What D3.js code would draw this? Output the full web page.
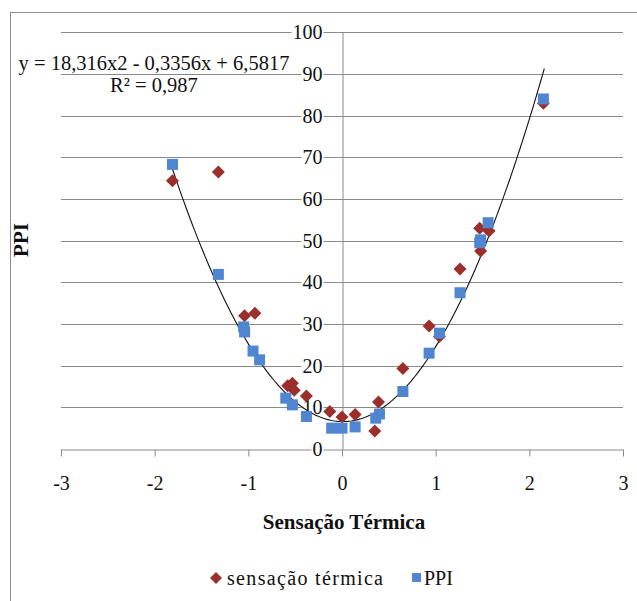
<!DOCTYPE html>
<html lang="en">
<head>
    <meta charset="UTF-8">
    <title>PPI x Sensação Térmica</title>
    <style>
        body { margin: 0; background: #fff; }
        svg { font-family: "Liberation Serif", serif; }
    </style>
</head>
<body>
<div id="chart-container"></div>
<script src="https://d3js.org/d3.v7.min.js"></script>
<script>
    // series values
    const termX = [-1.81, -1.32, -1.04, -0.93, -0.58, -0.53, -0.51, -0.38, -0.13, 0.0, 0.14, 0.35, 0.39, 0.65, 0.93, 1.04, 1.26, 1.47, 1.48, 1.57, 2.15];
    const termY = [64.4, 66.5, 32.0, 32.6, 15.2, 15.8, 14.1, 12.7, 9.0, 7.7, 8.3, 4.3, 11.3, 19.3, 29.5, 27.0, 43.2, 53.0, 47.5, 52.3, 83.0];
    const ppiX = [-1.81, -1.32, -1.05, -1.04, -0.95, -0.88, -0.6, -0.53, -0.38, -0.11, 0.0, 0.14, 0.36, 0.4, 0.65, 0.93, 1.04, 1.26, 1.47, 1.48, 1.56, 2.15];
    const ppiY = [68.3, 41.9, 29.3, 28.1, 23.5, 21.4, 12.2, 10.6, 7.8, 5.0, 5.0, 5.3, 7.4, 8.4, 13.8, 23.0, 27.8, 37.5, 49.5, 50.2, 54.3, 84.0];

    // trend line (polynomial, order 2) as printed on the chart
    const trendCoef = [18.316, -0.3356, 6.5817];
    const trendRange = [-1.82, 2.16];
    const eqLabel = 'y = 18,316x2 - 0,3356x + 6,5817';
    const r2Label = 'R² = 0,987';

    const xTicks = [-3, -2, -1, 0, 1, 2, 3];
    const yTicks = [0, 10, 20, 30, 40, 50, 60, 70, 80, 90, 100];
    const seriesNames = ['sensação térmica', 'PPI'];

    const width = 637, height = 601;
    const red = '#9b2f2c', blue = '#4f86cf';
    const fs = 20;

    const svg = d3.select('#chart-container')
        .append('svg')
        .attr('width', width)
        .attr('height', height);

    // outer chart border
    svg.append('rect')
        .attr('x', 10.5).attr('y', 12.5)
        .attr('width', 700).attr('height', 700)
        .attr('fill', 'none')
        .attr('stroke', '#8c8c8c');

    const x = d3.scaleLinear().domain([-3, 3]).range([61, 623]);
    const y = d3.scaleLinear().domain([0, 100]).range([449, 32.3]);

    // gridlines
    svg.append('g')
        .selectAll('line')
        .data(yTicks.slice(1))
        .join('line')
        .attr('x1', x(-3)).attr('x2', x(3))
        .attr('y1', d => Math.round(y(d)) + 0.5)
        .attr('y2', d => Math.round(y(d)) + 0.5)
        .attr('stroke', '#8a8a8a');

    // x axis with ticks
    const xAxis = svg.append('g')
        .attr('transform', `translate(0,${Math.round(y(0)) + 0.5})`)
        .call(d3.axisBottom(x).tickValues(xTicks).tickSize(7).tickSizeOuter(0));
    xAxis.attr('font-family', null).attr('font-size', fs);
    xAxis.select('.domain').attr('stroke', '#8a8a8a');
    xAxis.selectAll('.tick line').attr('stroke', '#8a8a8a');
    xAxis.selectAll('.tick text')
        .attr('y', 26)
        .attr('fill', '#111')
        .text(d => d < 0 ? '-' + Math.abs(d) : d);

    // y axis (crosses at x = 0), labels sit to its left over the gridlines
    const yAxis = svg.append('g')
        .attr('transform', `translate(${Math.round(x(0)) + 0.5},0)`)
        .call(d3.axisLeft(y).tickValues(yTicks).tickSize(0).tickPadding(20));
    yAxis.attr('font-family', null).attr('font-size', fs);
    yAxis.select('.domain').attr('stroke', '#8a8a8a');
    yAxis.selectAll('.tick text').attr('fill', '#111');
    yAxis.selectAll('.tick').each(function () {
        const t = d3.select(this).select('text');
        const b = t.node().getBBox();
        d3.select(this).insert('rect', 'text')
            .attr('x', b.x - 1).attr('y', b.y + 3)
            .attr('width', b.width + 2).attr('height', b.height - 6)
            .attr('fill', '#fff');
    });

    // trend line
    const trendPts = d3.range(trendRange[0], trendRange[1] + 0.001, 0.02)
        .map(v => [v, trendCoef[0] * v * v + trendCoef[1] * v + trendCoef[2]]);
    svg.append('path')
        .datum(trendPts)
        .attr('fill', 'none')
        .attr('stroke', '#111')
        .attr('stroke-width', 1.1)
        .attr('d', d3.line().x(d => x(d[0])).y(d => y(d[1])));

    // markers: diamonds first, squares on top
    const termData = termX.map((v, i) => [v, termY[i]]);
    const ppiData = ppiX.map((v, i) => [v, ppiY[i]]);
    const diamond = 'M0,-6.5L6.5,0L0,6.5L-6.5,0Z';

    svg.append('g')
        .selectAll('path')
        .data(termData)
        .join('path')
        .attr('d', diamond)
        .attr('transform', d => `translate(${x(d[0])},${y(d[1])})`)
        .attr('fill', red);

    svg.append('g')
        .selectAll('rect')
        .data(ppiData)
        .join('rect')
        .attr('x', d => x(d[0]) - 5.5)
        .attr('y', d => y(d[1]) - 5.5)
        .attr('width', 11).attr('height', 11)
        .attr('fill', blue);

    // equation text
    svg.append('text')
        .attr('x', 154).attr('y', 70)
        .attr('text-anchor', 'middle')
        .attr('font-size', 20.5)
        .attr('fill', '#111')
        .text(eqLabel);
    svg.append('text')
        .attr('x', 154).attr('y', 92)
        .attr('text-anchor', 'middle')
        .attr('font-size', 20.5)
        .attr('fill', '#111')
        .text(r2Label);

    // axis titles
    svg.append('text')
        .attr('x', 344).attr('y', 529)
        .attr('text-anchor', 'middle')
        .attr('font-size', 21)
        .attr('font-weight', 'bold')
        .attr('fill', '#111')
        .text('Sensação Térmica');
    svg.append('text')
        .attr('transform', 'translate(28,240) rotate(-90)')
        .attr('text-anchor', 'middle')
        .attr('font-size', 21)
        .attr('font-weight', 'bold')
        .attr('fill', '#111')
        .text('PPI');

    // legend
    const legend = svg.append('g');
    legend.append('path')
        .attr('d', 'M0,-6L6,0L0,6L-6,0Z')
        .attr('transform', 'translate(216,578)')
        .attr('fill', red);
    legend.append('text')
        .attr('x', 227).attr('y', 585)
        .attr('font-size', fs)
        .attr('textLength', 156)
        .attr('fill', '#111')
        .text(seriesNames[0]);
    legend.append('rect')
        .attr('x', 412).attr('y', 573)
        .attr('width', 9).attr('height', 9)
        .attr('fill', blue);
    legend.append('text')
        .attr('x', 424).attr('y', 585)
        .attr('font-size', fs)
        .attr('fill', '#111')
        .text(seriesNames[1]);
</script>
</body>
</html>
